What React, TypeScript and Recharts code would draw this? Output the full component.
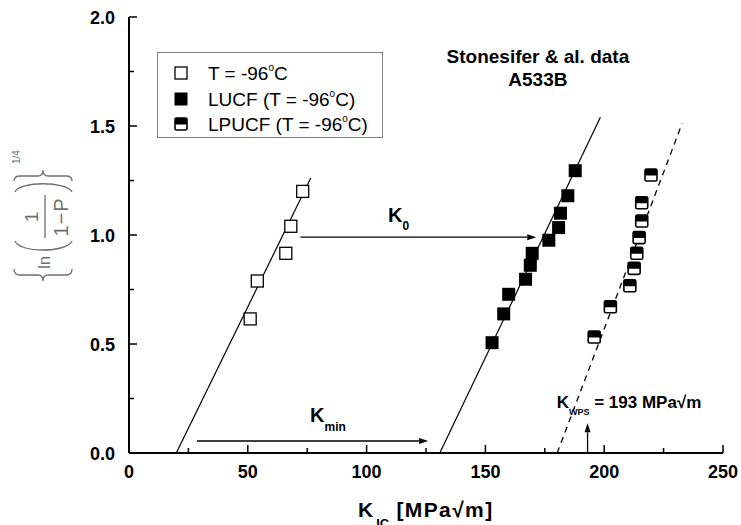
import React from 'react';
import { ComposedChart, Scatter, XAxis, YAxis, ReferenceLine, ReferenceDot, Legend } from 'recharts';

const FONT = '"Liberation Sans", Arial, Helvetica, sans-serif';

// ---- ticks ----
const xMajorTicks = [0, 50, 100, 150, 200, 250];
const xAllTicks = [0, 25, 50, 75, 100, 125, 150, 175, 200, 225, 250];
const yMajorTicks = [0, 0.5, 1, 1.5, 2];
const yAllTicks = [0, 0.25, 0.5, 0.75, 1, 1.25, 1.5, 1.75, 2];

// ---- data: K_IC [MPa√m] and {ln(1/(1-P))}^(1/4) ----
const coldK = [51.0, 54.0, 66.0, 68.1, 73.1];
const coldP = [0.615, 0.789, 0.916, 1.04, 1.2];

const lucfK = [152.8, 157.7, 159.8, 166.9, 168.9, 169.7, 176.7, 180.8, 181.6, 184.7, 187.8];
const lucfP = [0.506, 0.638, 0.728, 0.797, 0.861, 0.916, 0.976, 1.034, 1.1, 1.18, 1.295];

const lpucfK = [195.8, 202.6, 210.8, 212.6, 213.7, 214.7, 215.8, 215.8, 219.7];
const lpucfP = [0.532, 0.671, 0.767, 0.847, 0.916, 0.988, 1.064, 1.148, 1.275];

// fitted lines (start / end)
const fitColdK = [19.9, 76.5];
const fitColdP = [0, 1.261];
const fitLucfK = [130.8, 198.4];
const fitLucfP = [0, 1.54];
const fitLpucfK = [180.2, 232.8];
const fitLpucfP = [0, 1.512];

// arrows (start / end)
const arrowK0K = [72.1, 171.4];
const arrowK0P = [0.99, 0.99];
const arrowKminK = [28.6, 125.9];
const arrowKminP = [0.055, 0.055];
const kwps = 193;
const arrowKwpsP = [0, 0.136];

const seriesNames = ['T = -96°C', 'LUCF (T = -96°C)', 'LPUCF (T = -96°C)'];

const pts = (xs: number[], ys: number[]) => xs.map((k, i) => ({ k, p: ys[i] }));
const seg = (xs: number[], ys: number[]) => [
  { x: xs[0], y: ys[0] },
  { x: xs[1], y: ys[1] },
];

const coldData = pts(coldK, coldP);
const lucfData = pts(lucfK, lucfP);
const lpucfData = pts(lpucfK, lpucfP);

// ---- markers ----
const OpenSq = (p: any) => (
  <rect x={p.cx - 6} y={p.cy - 6} width={12} height={12} fill="#fff" stroke="#000" strokeWidth={1.3} />
);
const FilledSq = (p: any) => <rect x={p.cx - 6.5} y={p.cy - 6.5} width={13} height={13} fill="#000" />;
const HalfSq = (p: any) => (
  <g>
    <rect x={p.cx - 6} y={p.cy - 6} width={12} height={12} rx={1.5} fill="#fff" stroke="#000" strokeWidth={1.6} />
    <rect x={p.cx - 6} y={p.cy - 6} width={12} height={6.5} rx={1} fill="#000" />
  </g>
);

// ---- ticks ----
const BottomTick = ({ x, y, payload }: any) => {
  const major = xMajorTicks.includes(payload.value);
  return (
    <g>
      <line x1={x} x2={x} y1={y} y2={y - (major ? 8 : 5)} stroke="#000" strokeWidth={1.5} />
      {major && (
        <text x={x} y={y + 25} textAnchor="middle" fontFamily={FONT} fontWeight="bold" fontSize={18} fill="#000">
          {payload.value}
        </text>
      )}
    </g>
  );
};
const TopTick = ({ x, y, payload }: any) => {
  const major = xMajorTicks.includes(payload.value);
  return <line x1={x} x2={x} y1={y} y2={y + (major ? 8 : 5)} stroke="#000" strokeWidth={1.5} />;
};
const LeftTick = ({ x, y, payload }: any) => {
  const major = yMajorTicks.includes(payload.value);
  return (
    <g>
      <line x1={x} x2={x + (major ? 8 : 5)} y1={y} y2={y} stroke="#000" strokeWidth={1.5} />
      {major && (
        <text x={x - 14} y={y + 6.5} textAnchor="end" fontFamily={FONT} fontWeight="bold" fontSize={18} fill="#000">
          {payload.value.toFixed(1)}
        </text>
      )}
    </g>
  );
};
const RightTick = ({ x, y, payload }: any) => {
  const major = yMajorTicks.includes(payload.value);
  return <line x1={x} x2={x - (major ? 8 : 5)} y1={y} y2={y} stroke="#000" strokeWidth={1.5} />;
};

// ---- axis titles ----
const GRAY = '#707070';
const YTitle = () => (
  <g fontFamily={FONT} fill={GRAY}>
    <path
      d="M14,269 Q14,275 20,275 L38,275 Q43,275 43,281 Q43,275 48,275 L66,275 Q72,275 72,269"
      fill="none"
      stroke={GRAY}
      strokeWidth={1.3}
    />
    <text transform="translate(50,269) rotate(-90)" fontSize={17}>ln</text>
    <path d="M15,241 C19,253 67,253 72,241" fill="none" stroke={GRAY} strokeWidth={1.3} />
    <text transform="translate(38,217) rotate(-90)" fontSize={19} textAnchor="middle">1</text>
    <line x1={45} x2={45} y1={195} y2={238} stroke={GRAY} strokeWidth={1.3} />
    <text transform="translate(68,217) rotate(-90)" fontSize={20} textAnchor="middle" letterSpacing={1}>
      1−P
    </text>
    <path d="M15,192 C19,181 67,181 72,192" fill="none" stroke={GRAY} strokeWidth={1.3} />
    <path
      d="M14,181 Q14,176 20,176 L38,176 Q43,176 43,170 Q43,176 48,176 L66,176 Q72,176 72,181"
      fill="none"
      stroke={GRAY}
      strokeWidth={1.3}
    />
    <text transform="translate(20,164) rotate(-90)" fontSize={10}>1/4</text>
  </g>
);

const XTitle = () => (
  <text x={358} y={517} fontFamily={FONT} fontWeight="bold" fontSize={21} fill="#000">
    K
    <tspan dx={3} dy={11} fontSize={13}>IC</tspan>
    <tspan dy={-11} letterSpacing={1.4}> [MPa√m]</tspan>
  </text>
);

// ---- arrow shape ----
const arrowShape = (p: any) => {
  const { x1, y1, x2, y2 } = p;
  const dx = x2 - x1;
  const dy = y2 - y1;
  const len = Math.sqrt(dx * dx + dy * dy) || 1;
  const ux = dx / len;
  const uy = dy / len;
  const L = 9;
  const W = 3;
  const bx = x2 - ux * L;
  const by = y2 - uy * L;
  return (
    <g>
      <line x1={x1} y1={y1} x2={bx} y2={by} stroke="#000" strokeWidth={1.3} />
      <polygon
        points={`${x2},${y2} ${bx - uy * W},${by + ux * W} ${bx + uy * W},${by - ux * W}`}
        fill="#000"
      />
    </g>
  );
};

// ---- annotation text shapes ----
const textAt = (render: (cx: number, cy: number) => React.ReactNode) => (p: any) => <g>{render(p.cx, p.cy)}</g>;

// ---- legend ----
const LegendBox = () => {
  const rows = [21, 47, 72];
  const icons = [
    <rect key="a" x={18} y={rows[0] - 6} width={12} height={12} fill="#fff" stroke="#000" strokeWidth={1.3} />,
    <rect key="b" x={17.5} y={rows[1] - 6.5} width={13} height={13} fill="#000" />,
    <g key="c">
      <rect x={18} y={rows[2] - 6} width={12} height={12} rx={1.5} fill="#fff" stroke="#000" strokeWidth={1.6} />
      <rect x={18} y={rows[2] - 6} width={12} height={6.5} rx={1} fill="#000" />
    </g>,
  ];
  const parts = seriesNames.map((n) => n.split('°'));
  return (
    <svg width={226} height={86} style={{ display: 'block' }}>
      <rect x={0.5} y={0.5} width={225} height={85} fill="#fff" stroke="#808080" strokeWidth={1} />
      {icons}
      {parts.map((pp, i) => (
        <text key={i} x={51} y={rows[i] + 6.5} fontFamily={FONT} fontSize={19} fill="#000">
          {pp[0]}
          <tspan dy={-9} fontSize={10}>o</tspan>
          <tspan dy={9}>{pp[1]}</tspan>
        </text>
      ))}
    </svg>
  );
};

export default function App() {
  return (
    <div style={{ position: 'absolute', left: 0, top: 0, width: 741, height: 525, background: '#fff' }}>
      <ComposedChart width={741} height={525} margin={{ top: 17, right: 18, bottom: 0, left: 0 }}>
        <XAxis
          xAxisId={0}
          type="number"
          dataKey="k"
          domain={[0, 250]}
          allowDataOverflow
          ticks={xAllTicks}
          interval={0}
          tickSize={0}
          tickMargin={0}
          tickLine={false}
          tick={BottomTick}
          height={72}
          axisLine={{ stroke: '#000', strokeWidth: 2 }}
          label={<XTitle />}
        />
        <XAxis
          xAxisId="top"
          orientation="top"
          type="number"
          domain={[0, 250]}
          allowDataOverflow
          ticks={xAllTicks}
          interval={0}
          tickSize={0}
          tickMargin={0}
          tickLine={false}
          tick={TopTick}
          height={0}
          axisLine={{ stroke: '#000', strokeWidth: 2 }}
        />
        <YAxis
          yAxisId={0}
          type="number"
          dataKey="p"
          domain={[0, 2]}
          allowDataOverflow
          ticks={yAllTicks}
          interval={0}
          tickSize={0}
          tickMargin={0}
          tickLine={false}
          tick={LeftTick}
          width={129}
          axisLine={{ stroke: '#000', strokeWidth: 2 }}
          label={<YTitle />}
        />
        <YAxis
          yAxisId="right"
          orientation="right"
          type="number"
          domain={[0, 2]}
          allowDataOverflow
          ticks={yAllTicks}
          interval={0}
          tickSize={0}
          tickMargin={0}
          tickLine={false}
          tick={RightTick}
          width={0}
          axisLine={{ stroke: '#000', strokeWidth: 2 }}
        />

        <ReferenceLine segment={seg(fitColdK, fitColdP)} stroke="#000" strokeWidth={1.2} />
        <ReferenceLine segment={seg(fitLucfK, fitLucfP)} stroke="#000" strokeWidth={1.2} />
        <ReferenceLine segment={seg(fitLpucfK, fitLpucfP)} stroke="#000" strokeWidth={1.3} strokeDasharray="6 5" />
        <ReferenceLine segment={seg(arrowK0K, arrowK0P)} shape={arrowShape} />
        <ReferenceLine segment={seg(arrowKminK, arrowKminP)} shape={arrowShape} />
        <ReferenceLine segment={seg([kwps, kwps], arrowKwpsP)} shape={arrowShape} />

        <Scatter name={seriesNames[0]} data={coldData} shape={OpenSq} isAnimationActive={false} />
        <Scatter name={seriesNames[1]} data={lucfData} shape={FilledSq} isAnimationActive={false} />
        <Scatter name={seriesNames[2]} data={lpucfData} shape={HalfSq} isAnimationActive={false} />

        <ReferenceDot
          x={172.1}
          y={1.789}
          r={0}
          shape={textAt((cx, cy) => (
            <text x={cx} y={cy} textAnchor="middle" fontFamily={FONT} fontWeight="bold" fontSize={19} fill="#000">
              Stonesifer &amp; al. data
            </text>
          ))}
        />
        <ReferenceDot
          x={172.1}
          y={1.683}
          r={0}
          shape={textAt((cx, cy) => (
            <text x={cx} y={cy} textAnchor="middle" fontFamily={FONT} fontWeight="bold" fontSize={19} fill="#000">
              A533B
            </text>
          ))}
        />
        <ReferenceDot
          x={109}
          y={1.06}
          r={0}
          shape={textAt((cx, cy) => (
            <text x={cx} y={cy} fontFamily={FONT} fontWeight="bold" fontSize={20} fill="#000">
              K<tspan dy={8} fontSize={12}>0</tspan>
            </text>
          ))}
        />
        <ReferenceDot
          x={76.2}
          y={0.142}
          r={0}
          shape={textAt((cx, cy) => (
            <text x={cx} y={cy} fontFamily={FONT} fontWeight="bold" fontSize={20} fill="#000">
              K<tspan dy={9} fontSize={12}>min</tspan>
            </text>
          ))}
        />
        <ReferenceDot
          x={180}
          y={0.206}
          r={0}
          shape={textAt((cx, cy) => (
            <text x={cx} y={cy} fontFamily={FONT} fontWeight="bold" fontSize={17} fill="#000">
              K<tspan dy={7} fontSize={9}>WPS</tspan>
              <tspan dy={-7}> = 193 MPa√m</tspan>
            </text>
          ))}
        />

        <Legend
          layout="horizontal"
          verticalAlign="middle"
          align="center"
          content={LegendBox}
          wrapperStyle={{ left: 157, top: 52, width: 226, height: 86 }}
        />
      </ComposedChart>
    </div>
  );
}
